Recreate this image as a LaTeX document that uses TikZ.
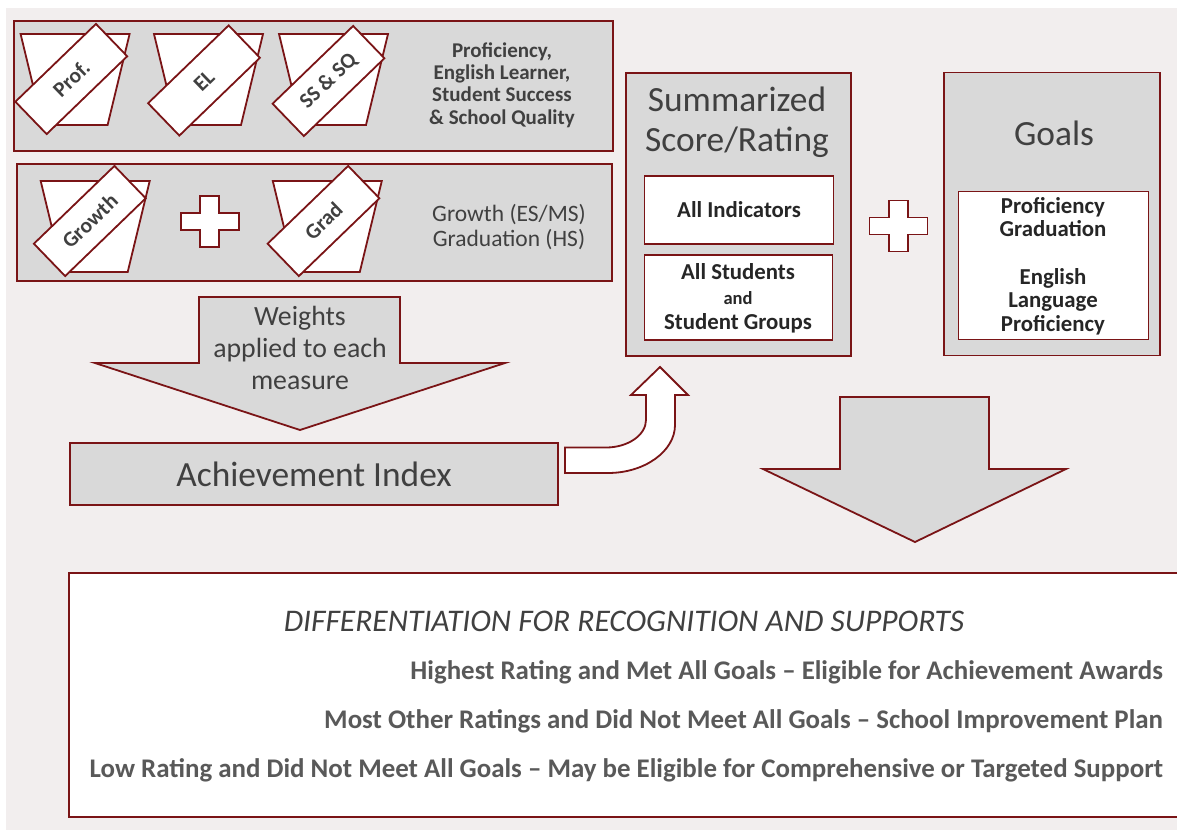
\documentclass[tikz,border=0pt]{standalone}
\usepackage{fontspec}
\setmainfont{Carlito}
\definecolor{bg}{RGB}{242,238,238}
\definecolor{panel}{RGB}{217,217,217}
\definecolor{rim}{RGB}{122,20,22}
\definecolor{ink}{RGB}{64,64,64}
\definecolor{inkdark}{RGB}{38,38,38}
\definecolor{inksoft}{RGB}{89,89,89}

% a measure "bucket": trapezoid given by its top-left corner
\newcommand{\bucket}[2]{\draw[whitebox] (#1,#2) -- ++(109,0) -- ++(-22,91) -- ++(-65,0) -- cycle;}
% a plus sign centred on the given point
\newcommand{\plusmark}[2]{%
  \begin{scope}[shift={(#1,#2)}]
    \draw[whitebox] (-9.5,-25.5) -- (9.5,-25.5) -- (9.5,-8.5) -- (29,-8.5) -- (29,8.5)
      -- (9.5,8.5) -- (9.5,25.5) -- (-9.5,25.5) -- (-9.5,8.5) -- (-29,8.5)
      -- (-29,-8.5) -- (-9.5,-8.5) -- cycle;
  \end{scope}}

\begin{document}
\begin{tikzpicture}[x=1pt,y=-1pt,
  every node/.style={inner sep=0pt,outer sep=0pt},
  panelbox/.style={draw=rim,fill=panel,line width=1.8pt},
  whitebox/.style={draw=rim,fill=white,line width=1.8pt},
  tag/.style={whitebox,rotate=44,minimum width=112pt,minimum height=45pt,
    text=ink,font=\bfseries\fontsize{21.5}{24}\selectfont},
  sidetext/.style={text=ink,align=center,font=\bfseries\fontsize{21}{22.3}\selectfont},
  headtext/.style={text=ink,align=center,font=\fontsize{35.4}{40}\selectfont},
  boldtext/.style={text=inkdark,align=center,font=\bfseries\fontsize{22.8}{24}\selectfont},
  outcome/.style={anchor=east,text=inksoft,font=\bfseries\fontsize{26.9}{28}\selectfont}]

\useasboundingbox (0,0) rectangle (1177,830);
\fill[bg] (6,8) rectangle (1177,830);

% ---- measures ----
\node[panelbox,minimum width=599pt,minimum height=130pt] (measures) at (313.5,86) {};
\bucket{20.6}{34}
\bucket{154}{34}
\bucket{279}{34}
\node[tag] (prof) at (71.3,79) {Prof.};
\node[tag] (el) at (204,80.5) {EL};
\node[tag] (ssq) at (328.5,81) {SS \& SQ};
\node[sidetext] (measlbl) at (502,85) {Proficiency,\\English Learner,\\Student Success\\\& School Quality};

\node[panelbox,minimum width=595pt,minimum height=117pt] (growthbox) at (314.5,222.5) {};
\bucket{40.7}{181}
\bucket{272.8}{181}
\node[tag] (growth) at (89.8,221) {Growth};
\node[tag] (grad) at (323.5,221) {Grad};
\plusmark{209.8}{221.5}
\node[text=ink,align=center,font=\fontsize{23.5}{25}\selectfont] (growthlbl) at (509,227)
  {Growth (ES/MS)\\Graduation (HS)};

% ---- weights arrow ----
\draw[panelbox] (199,297) -- (400,297) -- (400,363) -- (505,363) -- (300,430)
  -- (95,363) -- (199,363) -- cycle;
\node[text=ink,align=center,font=\fontsize{27.8}{32}\selectfont] (weights) at (300,348)
  {Weights\\applied to each\\measure};

% ---- achievement index ----
\node[panelbox,minimum width=488pt,minimum height=62pt,headtext] (index) at (314,474) {Achievement Index};

% ---- bent arrow up to the summary ----
\draw[whitebox] (565,447.5)
  -- (606,447.5) .. controls (628,447.5) and (646,435) .. (646,420)
  -- (646,395) -- (631,395) -- (660,367) -- (688,395) -- (675,395) -- (675,425)
  .. controls (675,451) and (645,473) .. (608,473) -- (565,473) -- cycle;

% ---- summarized score ----
\node[panelbox,minimum width=225pt,minimum height=283pt] (summary) at (738.5,214.5) {};
\node[headtext] (sumtitle) at (737,122) {Summarized\\Score/Rating};
\node[whitebox,minimum width=189pt,minimum height=68pt,boldtext] (allind) at (739,210) {All Indicators};
\node[whitebox,minimum width=188pt,minimum height=85pt] (allstud) at (738.5,297.5) {};
\node[boldtext] (studtext) at (738,298.5)
  {All Students\\[1pt]{\fontsize{18.5}{20}\selectfont and}\\[1pt]Student Groups};

\plusmark{898.4}{226}

% ---- goals ----
\node[panelbox,minimum width=216pt,minimum height=283pt] (goals) at (1052,214) {};
\node[headtext] (goaltitle) at (1054,133) {Goals};
\node[whitebox,minimum width=190pt,minimum height=148pt] (goallist) at (1053.5,265.5) {};
\node[boldtext,font=\bfseries\fontsize{22.8}{23.6}\selectfont] (goaltext) at (1053,266)
  {Proficiency\\Graduation\\[23.6pt]English\\Language\\Proficiency};

% ---- big arrow down ----
\draw[panelbox] (840,397) -- (989,397) -- (989,469) -- (1066,469) -- (915,542)
  -- (763,469) -- (840,469) -- cycle;

% ---- differentiation ----
\node[whitebox,minimum width=1109pt,minimum height=244pt] (diff) at (623.5,695) {};
\node[text=ink,font=\itshape\fontsize{31.5}{34}\selectfont] (difftitle) at (624,621)
  {DIFFERENTIATION FOR RECOGNITION AND SUPPORTS};
\node[outcome] (high) at (1163,672) {Highest Rating and Met All Goals – Eligible for Achievement Awards};
\node[outcome] (most) at (1163,721) {Most Other Ratings and Did Not Meet All Goals – School Improvement Plan};
\node[outcome] (low) at (1163,770) {Low Rating and Did Not Meet All Goals – May be Eligible for Comprehensive or Targeted Support};

\end{tikzpicture}
\end{document}
